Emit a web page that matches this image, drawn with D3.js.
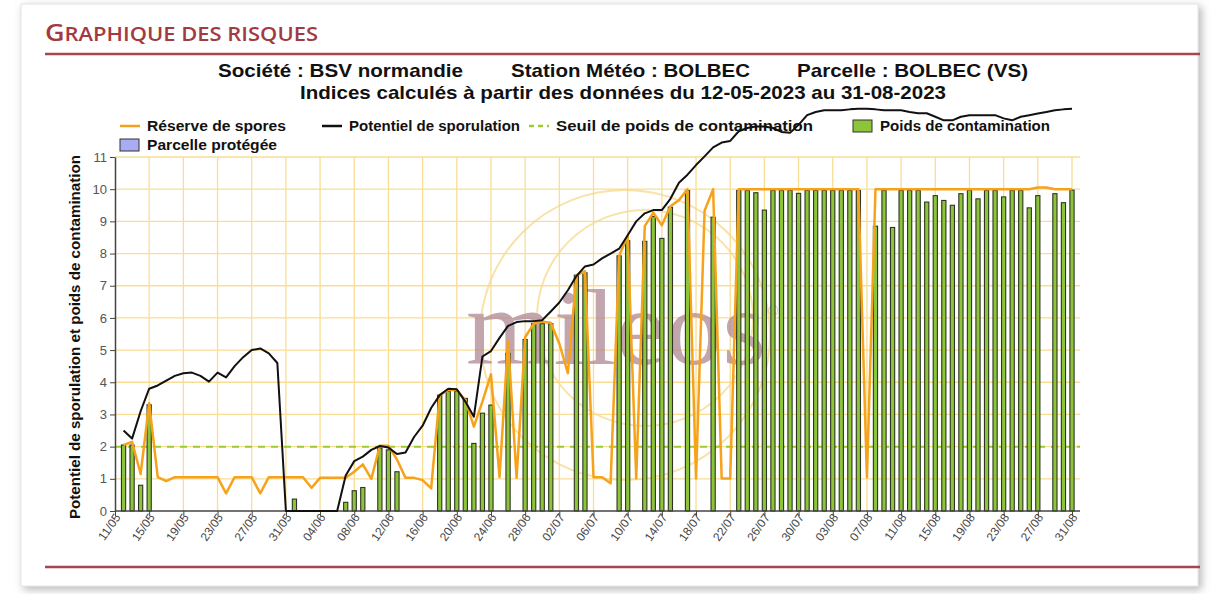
<!DOCTYPE html>
<html>
<head>
<meta charset="utf-8">
<style>
  body { margin: 0; background: #fff; }
  svg { display: block; font-family: "Liberation Sans", Arial, sans-serif; }
</style>
</head>
<body>
<div id="chart"></div>
<script src="https://d3js.org/d3.v7.min.js"></script>
<script>
    // x tick labels (every 4 days)
    const tickLabels = ['11/05', '15/05', '19/05', '23/05', '27/05', '31/05', '04/06', '08/06', '12/06', '16/06',
        '20/06', '24/06', '28/06', '02/07', '06/07', '10/07', '14/07', '18/07', '22/07', '26/07',
        '30/07', '03/08', '07/08', '11/08', '15/08', '19/08', '23/08', '27/08', '31/08'];

    // daily values, from 12/05 to 31/08
    const reserveSpores = [
        2.05, 2.15, 1.15, 3.35, 1.05, 0.93, 1.05, 1.05, 1.05, 1.05,
        1.05, 1.05, 0.55, 1.05, 1.05, 1.05, 0.55, 1.05, 1.05, 1.05,
        1.05, 1.05, 0.72, 1.03, 1.03, 1.03, 1.03, 1.22, 1.45, 1.0,
        2.03, 2.03, 1.6, 1.03, 1.03, 0.96, 0.7, 3.6, 3.76, 3.76,
        3.45, 2.62, 3.4, 4.25, 1.05, 5.3, 1.03, 5.4, 5.82, 5.88,
        5.85, 5.2, 4.28, 7.33, 7.45, 1.05, 1.05, 0.86, 7.93, 8.55,
        1.01, 8.85, 9.27, 8.88, 9.47, 9.66, 10, 1.01, 9.33, 10,
        1.01, 1.01, 10, 10, 10, 10, 10, 10, 10, 10,
        10, 10, 10, 10, 10, 10, 10, 1.05, 10, 10,
        10, 10, 10, 10, 10, 10, 10, 10, 10, 10,
        10, 10, 10, 10, 10, 10, 10, 10.05, 10.05, 10,
        10, 10];

    const potentielSporulation = [
        2.5, 2.25, 3.1, 3.8, 3.9, 4.05, 4.2, 4.28, 4.3, 4.2,
        4.02, 4.3, 4.15, 4.5, 4.78, 5.0, 5.05, 4.9, 4.6, 0,
        0, 0, 0, 0, 0, 0, 1.1, 1.55, 1.69, 1.9,
        2.02, 1.97, 1.77, 1.82, 2.3, 2.65, 3.2, 3.6, 3.8, 3.78,
        3.4, 2.93, 4.8, 4.97, 5.38, 5.75, 5.87, 5.9, 5.9, 5.93,
        6.2, 6.48, 6.86, 7.3, 7.6, 7.66, 7.85, 8.0, 8.15, 8.57,
        9.0, 9.25, 9.35, 9.35, 9.7, 10.2, 10.45, 10.75, 11.02, 11.3,
        11.45, 11.5, 11.8, 11.9, 11.95, 11.95, 11.9, 11.78, 11.75, 12.0,
        12.3, 12.4, 12.45, 12.45, 12.45, 12.48, 12.5, 12.5, 12.48, 12.45,
        12.45, 12.45, 12.4, 12.36, 12.36, 12.25, 12.14, 12.14, 12.25, 12.3,
        12.3, 12.3, 12.3, 12.2, 12.14, 12.25, 12.3, 12.35, 12.4, 12.45,
        12.48, 12.5];

    const poidsContamination = [
        2.05, 2.05, 0.8, 3.3, null, null, null, null, null, null,
        null, null, null, null, null, null, null, null, null, null,
        0.37, null, null, null, null, null, 0.27, 0.63, 0.73, null,
        1.95, 1.9, 1.22, null, null, null, null, 3.6, 3.72, 3.72,
        3.5, 2.1, 3.04, 3.29, null, 4.9, null, 5.33, 5.82, 5.82,
        5.82, null, null, 7.33, 7.4, null, null, null, 7.93, 8.4,
        null, 8.38, 9.15, 8.47, 9.44, null, 9.96, null, null, 9.13,
        null, null, 9.96, 9.96, 9.89, 9.35, 9.96, 9.96, 9.96, 9.87,
        9.96, 9.96, 9.96, 9.96, 9.96, 9.96, 9.96, null, 8.85, 9.96,
        8.81, 9.96, 9.96, 9.96, 9.6, 9.8, 9.65, 9.5, 9.86, 9.97,
        9.7, 9.96, 9.96, 9.76, 9.96, 9.96, 9.42, 9.8, null, 9.86,
        9.58, 9.97];

    const seuilContamination = 2;
    const yTicks = [0, 1, 2, 3, 4, 5, 6, 7, 8, 9, 10, 11];

    const parse = d3.timeParse('%d/%m/%Y');
    const firstDay = parse('12/05/2023');
    const days = reserveSpores.map((v, i) => d3.timeDay.offset(firstDay, i));
    const tickDates = tickLabels.map(l => parse(l + '/2023'));

    const svg = d3.select('#chart')
        .append('svg')
        .attr('width', 1211)
        .attr('height', 594);

    const defs = svg.append('defs');
    const shadow = defs.append('filter').attr('id', 'shadow')
        .attr('x', '-5%').attr('y', '-5%').attr('width', '110%').attr('height', '110%');
    shadow.append('feDropShadow')
        .attr('dx', 3).attr('dy', 3).attr('stdDeviation', 4)
        .attr('flood-color', '#777').attr('flood-opacity', 0.55);

    // panel
    svg.append('rect')
        .attr('x', 21).attr('y', 4).attr('width', 1177).attr('height', 582)
        .attr('fill', '#fff').attr('stroke', '#e4e4e4')
        .attr('filter', 'url(#shadow)');

    // page title
    const title = svg.append('text')
        .attr('x', 45).attr('y', 41)
        .attr('fill', '#a23a41')
        .attr('textLength', 273).attr('lengthAdjust', 'spacingAndGlyphs')
        .style('font-family', '"Open Sans", sans-serif')
        .style('font-weight', 600);
    title.append('tspan').attr('font-size', 24).text('G');
    title.append('tspan').attr('font-size', 19.5).text('RAPHIQUE DES RISQUES');

    svg.append('line').attr('x1', 45).attr('x2', 1200).attr('y1', 54).attr('y2', 54)
        .attr('stroke', '#a8464e').attr('stroke-width', 2.5);
    svg.append('line').attr('x1', 45).attr('x2', 1200).attr('y1', 567).attr('y2', 567)
        .attr('stroke', '#a8464e').attr('stroke-width', 2.5);

    // header
    const header = [
        { t: 'Société : BSV normandie', x: 218, w: 245, y: 77 },
        { t: 'Station Météo : BOLBEC', x: 511, w: 239, y: 77 },
        { t: 'Parcelle : BOLBEC (VS)', x: 797, w: 231, y: 77 },
        { t: 'Indices calculés à partir des données du 12-05-2023 au 31-08-2023', x: 300, w: 646, y: 99 }
    ];
    svg.selectAll('.hdr').data(header).enter().append('text')
        .attr('x', d => d.x).attr('y', d => d.y)
        .attr('textLength', d => d.w).attr('lengthAdjust', 'spacingAndGlyphs')
        .attr('font-size', 19).attr('font-weight', 'bold').attr('fill', '#111')
        .text(d => d.t);

    const x = d3.scaleTime()
        .domain([parse('11/05/2023'), parse('31/08/2023')])
        .range([115, 1072]);
    const y = d3.scaleLinear().domain([0, 11]).range([511, 157]);
    const xRight = 1080;

    // grid
    const grid = svg.append('g').attr('stroke', '#f9dd93').attr('stroke-width', 1.3);
    grid.selectAll('.hg').data(yTicks.slice(1)).enter().append('line')
        .attr('x1', 115).attr('x2', xRight)
        .attr('y1', d => y(d)).attr('y2', d => y(d));
    grid.selectAll('.vg').data(tickDates.slice(1)).enter().append('line')
        .attr('x1', d => x(d)).attr('x2', d => x(d))
        .attr('y1', y(11)).attr('y2', y(0));

    // watermark
    const wm = svg.append('g').attr('opacity', 0.75);
    wm.append('circle').attr('cx', 625).attr('cy', 335).attr('r', 145)
        .attr('fill', 'none').attr('stroke', '#f7d98c').attr('stroke-width', 2);
    wm.append('circle').attr('cx', 645).attr('cy', 318).attr('r', 108)
        .attr('fill', 'none').attr('stroke', '#f7d98c').attr('stroke-width', 2);
    wm.append('text').attr('x', 466).attr('y', 364)
        .attr('font-size', 108)
        .attr('textLength', 300).attr('lengthAdjust', 'spacingAndGlyphs')
        .style('font-family', '"Liberation Serif", serif')
        .attr('fill', '#b08893').text('mileos');
    wm.append('text').attr('x', 768).attr('y', 316).attr('font-size', 14)
        .style('font-family', '"Liberation Serif", serif')
        .attr('fill', '#b08893').text('®');

    // threshold
    svg.append('line')
        .attr('x1', 115).attr('x2', xRight)
        .attr('y1', y(seuilContamination)).attr('y2', y(seuilContamination))
        .attr('stroke', '#9ccc2e').attr('stroke-width', 2).attr('stroke-dasharray', '7,6');

    // bars
    const barW = 4.2;
    svg.append('g').selectAll('rect')
        .data(poidsContamination.map((v, i) => ({ v, d: days[i] })).filter(o => o.v !== null))
        .enter().append('rect')
        .attr('x', o => x(o.d) - barW / 2)
        .attr('y', o => y(o.v))
        .attr('width', barW)
        .attr('height', o => y(0) - y(o.v))
        .attr('fill', '#8cc43a')
        .attr('stroke', '#2f3522')
        .attr('stroke-width', 1.1);

    // axes
    const yAxis = svg.append('g')
        .attr('transform', 'translate(115,0)')
        .call(d3.axisLeft(y).tickValues(yTicks).tickSize(5).tickSizeOuter(0));
    yAxis.select('.domain').attr('stroke', '#444').attr('stroke-width', 1.5);
    yAxis.selectAll('.tick line').attr('stroke', '#444');
    yAxis.selectAll('.tick text').attr('font-size', 13).attr('fill', '#555')
        .style('font-family', '"Liberation Sans", Arial, sans-serif').attr('x', -8);

    const xAxis = svg.append('g')
        .attr('transform', 'translate(0,511)')
        .call(d3.axisBottom(x).tickValues(tickDates).tickSize(5).tickSizeOuter(0)
            .tickFormat((d, i) => tickLabels[i]));
    xAxis.select('.domain').attr('stroke', '#444').attr('stroke-width', 1.5)
        .attr('d', `M115,0H${xRight}`);
    xAxis.selectAll('.tick line').attr('stroke', '#444');
    xAxis.selectAll('.tick text')
        .attr('font-size', 12).attr('fill', '#444')
        .style('font-family', '"Liberation Sans", Arial, sans-serif')
        .attr('text-anchor', 'end')
        .attr('x', -2).attr('y', 4).attr('dy', '0.35em')
        .attr('transform', 'rotate(-55)');

    svg.append('text')
        .attr('transform', 'translate(80,337) rotate(-90)')
        .attr('text-anchor', 'middle')
        .attr('textLength', 364).attr('lengthAdjust', 'spacingAndGlyphs')
        .attr('font-size', 14.5).attr('font-weight', 'bold').attr('fill', '#111')
        .text('Potentiel de sporulation et poids de contamination');

    // legend
    const legend = svg.append('g').attr('font-size', 14).attr('font-weight', 'bold').attr('fill', '#111');
    const legendItems = [
        { t: 'Réserve de spores', x: 120, y: 126, w: 139, kind: 'line', c: '#f7a21b' },
        { t: 'Potentiel de sporulation', x: 322, y: 126, w: 171, kind: 'line', c: '#111' },
        { t: 'Seuil de poids de contamination', x: 529, y: 126, w: 257, kind: 'dash', c: '#9ccc2e' },
        { t: 'Poids de contamination', x: 853, y: 126, w: 170, kind: 'rect', c: '#8cc43a' },
        { t: 'Parcelle protégée', x: 120, y: 145, w: 130, kind: 'rect', c: '#a9acf2' }
    ];
    legendItems.forEach(it => {
        if (it.kind === 'rect') {
            legend.append('rect').attr('x', it.x).attr('y', it.y - 6).attr('width', 19).attr('height', 12)
                .attr('fill', it.c).attr('stroke', '#333').attr('stroke-width', 1);
        } else {
            legend.append('line').attr('x1', it.x).attr('x2', it.x + 20)
                .attr('y1', it.y).attr('y2', it.y)
                .attr('stroke', it.c).attr('stroke-width', 2.5)
                .attr('stroke-dasharray', it.kind === 'dash' ? '5,4' : null);
        }
        legend.append('text').attr('x', it.x + 27).attr('y', it.y + 5)
            .attr('textLength', it.w).attr('lengthAdjust', 'spacingAndGlyphs')
            .text(it.t);
    });

    // lines
    const line = d3.line().x((d, i) => x(days[i])).y(d => y(d));
    svg.append('path').datum(reserveSpores)
        .attr('fill', 'none').attr('stroke', '#f7a21b').attr('stroke-width', 2.5)
        .attr('stroke-linejoin', 'round').attr('d', line);
    svg.append('path').datum(potentielSporulation)
        .attr('fill', 'none').attr('stroke', '#111').attr('stroke-width', 2)
        .attr('stroke-linejoin', 'round').attr('d', line);
</script>
</body>
</html>
